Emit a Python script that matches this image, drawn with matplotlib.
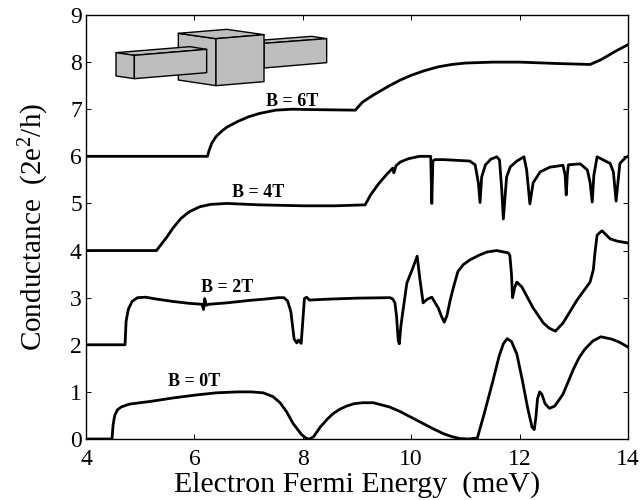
import matplotlib
matplotlib.use("Agg")
import matplotlib.pyplot as plt
from matplotlib.patches import Polygon

plt.rcParams["font.family"] = ["Liberation Serif", "DejaVu Serif"]
plt.rcParams["mathtext.default"] = "regular"

# curves
x_0t = [4, 4.48, 4.5, 4.53, 4.58, 4.65, 4.8, 5.2, 5.6, 6, 6.4, 6.8, 7.05, 7.27, 7.45, 7.58, 7.7, 7.82, 7.98, 8.07, 8.13,
        8.2, 8.32, 8.45, 8.56, 8.68, 8.81, 8.95, 9.11, 9.3, 9.6, 9.8, 10, 10.2, 10.4, 10.6, 10.75, 10.9, 11.05, 11.22,
        11.35, 11.5, 11.62, 11.7, 11.77, 11.85, 11.95, 12.05, 12.15, 12.23, 12.27, 12.3, 12.33, 12.37, 12.41, 12.47,
        12.55, 12.65, 12.8, 13, 13.1, 13.2, 13.35, 13.5, 13.7, 13.85, 14]
y_0t = [0, 0, 0.3, 0.5, 0.62, 0.68, 0.74, 0.8, 0.87, 0.93, 0.98, 1.0, 1.0, 0.98, 0.9, 0.77, 0.58, 0.33, 0.09, 0.01, 0,
        0.05, 0.25, 0.42, 0.54, 0.63, 0.7, 0.75, 0.77, 0.77, 0.68, 0.58, 0.46, 0.34, 0.22, 0.11, 0.05, 0.01, 0, 0.02,
        0.55, 1.2, 1.75, 2.02, 2.13, 2.07, 1.8, 1.25, 0.65, 0.25, 0.2, 0.45, 0.85, 1.0, 0.95, 0.75, 0.65, 0.7, 0.95,
        1.5, 1.73, 1.9, 2.08, 2.17, 2.12, 2.05, 1.95]

x_2t = [4, 4.72, 4.74, 4.78, 4.85, 4.95, 5.1, 5.3, 5.6, 5.9, 6.14, 6.17, 6.19, 6.22, 6.27, 6.6, 7, 7.3, 7.55, 7.65,
        7.72, 7.78, 7.84, 7.89, 7.92, 7.97, 8.0, 8.03, 8.07, 8.12, 8.5, 9, 9.61, 9.66, 9.7, 9.73, 9.76, 9.78, 9.81, 9.85,
        9.92, 10.02, 10.11, 10.16, 10.22, 10.3, 10.38, 10.5, 10.56, 10.61, 10.66, 10.72, 10.78, 10.86, 10.96, 11.08,
        11.25, 11.4, 11.58, 11.79, 11.82, 11.85, 11.87, 11.91, 11.95, 12.04, 12.25, 12.44, 12.55, 12.66, 12.8, 13.06,
        13.3, 13.36, 13.39, 13.43, 13.52, 13.67, 13.8, 14]
y_2t = [2, 2, 2.5, 2.75, 2.92, 3.0, 3.01, 2.97, 2.92, 2.88, 2.86, 2.75, 2.98, 2.84, 2.86, 2.89, 2.94, 2.97, 3.0,
        3.0, 2.93, 2.7, 2.12, 2.04, 2.1, 2.03, 2.5, 2.98, 3.01, 2.95, 2.97, 2.99, 3.0, 2.97, 2.89, 2.6, 2.1, 2.02, 2.4,
        2.74, 3.31, 3.6, 3.88, 3.4, 2.89, 2.97, 3.01, 2.78, 2.6, 2.48, 2.62, 2.95, 3.22, 3.55, 3.7, 3.8, 3.9, 3.97, 4.0,
        3.95, 3.9, 3.5, 3.0, 3.22, 3.33, 3.23, 2.78, 2.46, 2.35, 2.29, 2.46, 2.95, 3.33, 3.59, 3.95, 4.33, 4.42, 4.25,
        4.2, 4.16]

x_4t = [4, 5.3, 5.4, 5.5, 5.6, 5.75, 5.9, 6.1, 6.3, 6.6, 7.2, 8, 8.6, 9.15, 9.25, 9.4, 9.55, 9.66, 9.68, 9.72, 9.8,
        9.95, 10.15, 10.36, 10.38, 10.4, 10.44, 10.6, 11.08, 11.18, 11.24, 11.27, 11.3, 11.37, 11.47, 11.58, 11.63,
        11.67, 11.7, 11.76, 11.83, 11.95, 12.08, 12.13, 12.19, 12.25, 12.38, 12.56, 12.8, 12.84, 12.86, 12.88, 12.9,
        13.12, 13.25, 13.3, 13.34, 13.37, 13.43, 13.67, 13.73, 13.78, 13.85, 13.96, 14]
y_4t = [4, 4, 4.15, 4.3, 4.47, 4.68, 4.82, 4.93, 4.98, 5.0, 4.97, 4.95, 4.95, 4.97, 5.18, 5.42, 5.62, 5.75, 5.65,
        5.8, 5.88, 5.95, 6.0, 6.0, 5.0, 5.9, 5.93, 5.93, 5.9, 5.82, 5.43, 5.02, 5.56, 5.82, 5.94, 5.99, 5.92, 5.3,
        4.67, 5.56, 5.78, 5.9, 5.99, 5.71, 4.99, 5.44, 5.67, 5.77, 5.81, 5.6, 5.18, 5.6, 5.82, 5.84, 5.71, 5.45, 5.03,
        5.6, 5.99, 5.85, 5.67, 5.05, 5.85, 5.98, 6.0]

x_6t = [4, 6.24, 6.27, 6.32, 6.4, 6.5, 6.6, 6.8, 7, 7.2, 7.5, 7.8, 8.3, 8.97, 9.1, 9.3, 9.6, 9.8, 10, 10.25, 10.5, 10.75,
        11, 11.5, 12, 12.7, 13.3, 13.5, 13.8, 14]
y_6t = [6, 6, 6.12, 6.28, 6.42, 6.53, 6.62, 6.74, 6.84, 6.91, 6.98, 7.0, 6.99, 6.98, 7.15, 7.3, 7.5, 7.62, 7.72, 7.82,
        7.9, 7.95, 7.98, 8.0, 8.0, 7.97, 7.95, 8.05, 8.25, 8.37]

curve_labels = ["B = 0T", "B = 2T", "B = 4T", "B = 6T"]
label_x = [6.0, 6.6, 7.18, 7.8]
label_y = [1.22, 3.21, 5.24, 7.17]

xticks = [4, 6, 8, 10, 12, 14]
yticks = [0, 1, 2, 3, 4, 5, 6, 7, 8, 9]

GRAY = "#bebebe"

fig = plt.figure(figsize=(6.4, 5.0), dpi=100)
ax = fig.add_axes([86 / 640, 1 - 439 / 500, (628 - 86) / 640, (439 - 15) / 500])

for xs, ys in [(x_0t, y_0t), (x_2t, y_2t), (x_4t, y_4t), (x_6t, y_6t)]:
    ax.plot(xs, ys, color="black", lw=2.0, solid_joinstyle="round")

for s, lx, ly in zip(curve_labels, label_x, label_y):
    ax.text(lx, ly, s, fontsize=13, fontweight="bold", ha="center", va="center")

ax.set_xlim(4, 14)
ax.set_ylim(0, 9)
ax.set_xticks(xticks)
ax.set_yticks(yticks)
ax.tick_params(direction="in", top=True, right=True, length=3.8, width=0.7, labelsize=17, pad=3)
ax.tick_params(axis="x", pad=7)
for sp in ax.spines.values():
    sp.set_linewidth(1.0)

ax.set_xlabel("Electron Fermi Energy  (meV)", fontsize=21.5, labelpad=1)
ax.set_ylabel("Conductance  (2e$^2$/h)", fontsize=21, labelpad=14)


# little device sketch, corners in zoomed pixels of the top left part of the picture
def face(pts):
    xy = [((80 + px / 3) / 640, 1 - (py / 3) / 500) for px, py in pts]
    fig.add_artist(Polygon(xy, closed=True, facecolor=GRAY, edgecolor="black", lw=1.0,
                           transform=fig.transFigure, joinstyle="round"))


face([(552, 120), (695, 109), (740, 116), (552, 130)])
face([(552, 130), (740, 116), (740, 188), (552, 204)])
face([(295, 100), (408, 116), (408, 257), (295, 240)])
face([(295, 100), (440, 88), (552, 104), (408, 116)])
face([(408, 116), (552, 104), (552, 245), (408, 257)])
face([(108, 158), (330, 140), (380, 148), (163, 166)])
face([(108, 158), (163, 166), (163, 236), (108, 228)])
face([(163, 166), (380, 148), (380, 218), (163, 236)])

plt.savefig("out.png", dpi=100)
